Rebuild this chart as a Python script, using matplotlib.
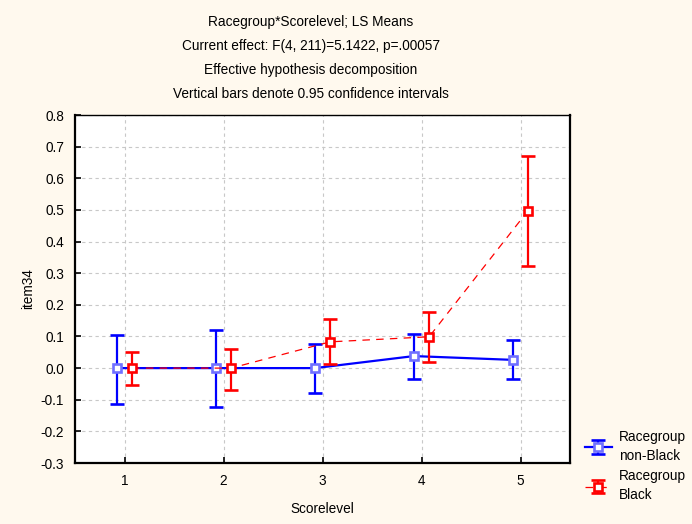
import numpy as np
import matplotlib.pyplot as plt

# ---- data ----
score_levels = [1, 2, 3, 4, 5]

nonblack_mean = [0.000, 0.000, 0.000, 0.038, 0.026]
nonblack_low  = [-0.112, -0.123, -0.080, -0.035, -0.035]
nonblack_high = [0.105, 0.121, 0.077, 0.107, 0.089]

black_mean = [0.000, 0.000, 0.083, 0.099, 0.498]
black_low  = [-0.052, -0.068, 0.012, 0.020, 0.324]
black_high = [0.050, 0.060, 0.155, 0.178, 0.672]

y_ticks = [-0.3, -0.2, -0.1, 0.0, 0.1, 0.2, 0.3, 0.4, 0.5, 0.6, 0.7, 0.8]

title_lines = [
    "Racegroup*Scorelevel; LS Means",
    "Current effect: F(4, 211)=5.1422, p=.00057",
    "Effective hypothesis decomposition",
    "Vertical bars denote 0.95 confidence intervals",
]

BG = "#fff9ee"
BLUE = "#0000ff"
RED = "#ff0000"

plt.rcParams["font.family"] = ["Liberation Sans", "DejaVu Sans"]

fig = plt.figure(figsize=(6.92, 5.24), dpi=100, facecolor=BG)
ax = fig.add_axes([0.1084, 0.1164, 0.7153, 0.6641])
ax.set_facecolor("white")

x = np.array(score_levels, dtype=float)
off = 0.077


def yerr(mean, low, high):
    m = np.array(mean)
    return np.vstack([m - np.array(low), np.array(high) - m])


eb1 = ax.errorbar(x - off, nonblack_mean, yerr=yerr(nonblack_mean, nonblack_low, nonblack_high),
                  color=BLUE, lw=1.6, elinewidth=1.6, capsize=5, capthick=1.6,
                  marker="s", ms=5.2, mfc="white", mec="#7070ff", mew=1.9,
                  label="Racegroup\nnon-Black", zorder=4)
eb2 = ax.errorbar(x + off, black_mean, yerr=yerr(black_mean, black_low, black_high),
                  color=RED, lw=0.9, ls=(0, (6, 5)), elinewidth=1.6, capsize=5, capthick=1.6,
                  marker="s", ms=5.8, mfc="white", mec=RED, mew=1.9,
                  label="Racegroup\nBlack", zorder=5)
eb2[-1][0].set_linestyle("-")

ax.set_xlim(0.5, 5.5)
ax.set_ylim(-0.3, 0.8)
ax.set_xticks(score_levels)
ax.set_yticks(y_ticks)
ax.set_yticklabels([f"{v:.1f}" for v in y_ticks])
ax.grid(True, color="#c8c8c8", ls=(0, (3, 3)), lw=0.8)
ax.set_axisbelow(True)
ax.tick_params(direction="in", length=4, width=1.2, labelsize=9.8, pad=8)

for side in ["left", "bottom", "right"]:
    ax.spines[side].set_linewidth(1.6)
ax.spines["top"].set_linewidth(1.0)

ax.set_xlabel("Scorelevel", fontsize=9.8, labelpad=10)
ax.set_ylabel("item34", fontsize=9.8, labelpad=4)

for i, line in enumerate(title_lines):
    fig.text(0.4495, 1 - (22 + 24 * i) / 524, line, ha="center", va="center", fontsize=9.8)

leg = fig.legend(handles=[eb1, eb2], loc="lower left", bbox_to_anchor=(0.827, 0.018),
                 frameon=False, fontsize=9.8, handlelength=2.0, labelspacing=0.5,
                 handletextpad=0.5)
for t in leg.get_texts():
    t.set_linespacing(1.45)

fig.savefig("out.png", dpi=100, facecolor=BG)
